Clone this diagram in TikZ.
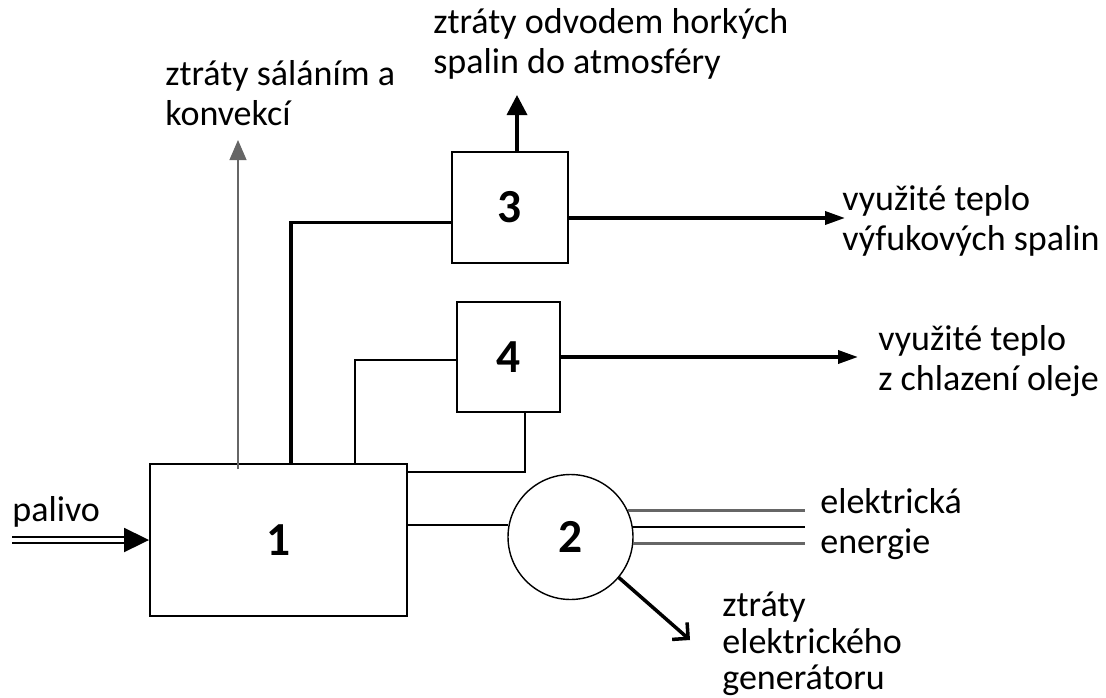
\documentclass[tikz,border=0pt]{standalone}
\usepackage{fontspec}
\setmainfont{Carlito}
\usetikzlibrary{positioning,arrows.meta,calc}

\begin{document}
\begin{tikzpicture}[x=0.02cm,y=-0.02cm,
  box/.style={draw,line width=1.1pt,inner sep=0},
  num/.style={font=\fontsize{27}{32}\selectfont\bfseries},
  lbl/.style={font=\fontsize{20.5}{22.7}\selectfont,align=left,anchor=north west,inner sep=0},
  heat/.style={line width=2pt,-{Triangle[length=0.4cm,width=0.26cm]}},
  wire/.style={line width=1.6pt}]
\useasboundingbox (0,0) rectangle (1106,697);
% blocks
\node[box,minimum width=5.14cm,minimum height=3.04cm,num] (eng) at (278.5,540) {1};
\node[box,circle,line width=0.8pt,minimum size=2.5cm,num] (gen) at (570.5,537) {2};
\node[box,minimum width=2.32cm,minimum height=2.22cm,num] (hx3) at (510,207.5) {3};
\node[box,minimum width=2.06cm,minimum height=2.2cm,num] (hx4) at (508.5,357) {4};
% free ends
\coordinate (fuel) at (12,540);
\coordinate (rad) at (238,140);
\coordinate (flue) at (517,95);
\coordinate (use1) at (845,218);
\coordinate (use2) at (858,357);
\coordinate (eend) at (805,527);
\coordinate (gloss) at (690,640);
% labels
\node[lbl] (tfuel) at (12,496) {palivo};
\node[lbl] (trad) at (165,60) {ztráty sáláním a\\konvekcí};
\node[lbl] (tflue) at (433,8) {ztráty odvodem horkých\\spalin do atmosféry};
\node[lbl] (tuse1) at (842,185) {využité teplo\\výfukových spalin};
\node[lbl] (tuse2) at (878,325) {využité teplo\\z chlazení oleje};
\node[lbl] (tel) at (820,488) {elektrická\\energie};
\node[lbl,font=\fontsize{20.5}{20.6}\selectfont] (tgen) at (722,592) {ztráty\\elektrického\\generátoru};
% fuel in
\draw[double,double distance=2.4pt,line width=1.1pt,
  -{Triangle[length=0.5cm,width=0.48cm]}] (fuel) -- (eng.west);
% radiation and convection
\draw[gray!80!black,line width=0.6pt,-{Triangle[length=0.4cm,width=0.34cm]}]
  ([yshift=-0.12cm]eng.north -| rad) -- (rad);
% engine to heat exchangers
\draw[line width=2pt] ($(eng.north west)+(142,0)$) |- ([yshift=-0.3cm]hx3.west);
\draw[wire] ($(eng.north west)+(206,0)$) |- ([yshift=-0.06cm]hx4.west);
\draw[wire] ([xshift=0.33cm]hx4.south) |- ([yshift=-0.18cm]eng.north east);
% exhaust and heat use
\draw[line width=2pt,-{Triangle[length=0.4cm,width=0.4cm]}] (flue |- hx3.north) -- (flue);
\draw[heat] (hx3.east |- use1) -- (use1);
\draw[heat] (hx4.east |- use2) -- (use2);
% generator
\draw[line width=0.9pt] (eng.east |- gen.169) -- (gen.169);
\draw[gray!80!black,line width=1.6pt] (gen.25) -- (gen.25 -| eend);
\draw[line width=1.2pt] (gen.9) -- (gen.9 -| eend);
\draw[gray!80!black,line width=1.6pt] (gen.-6) -- (gen.-6 -| eend);
\draw[line width=2pt,-{Straight Barb[angle=90:0.32cm]}] (gen.-40) -- (gloss);
\end{tikzpicture}
\end{document}
